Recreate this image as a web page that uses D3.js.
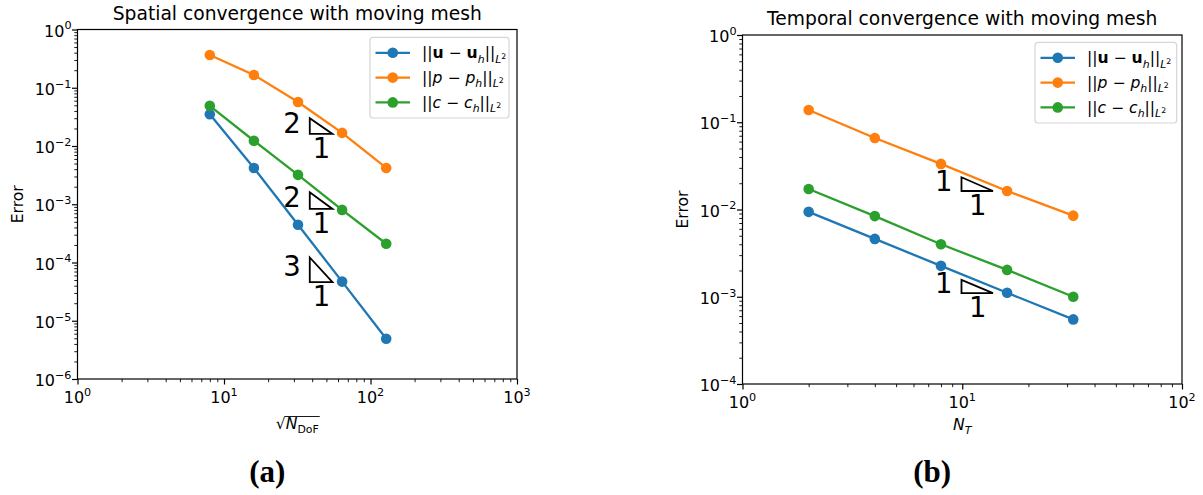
<!DOCTYPE html>
<html><head><meta charset="utf-8">
<script src="https://cdn.jsdelivr.net/npm/d3@7"></script>
<style>
body{margin:0;background:#fff}
svg{display:block}
text{font-family:"DejaVu Sans",sans-serif;fill:#000;white-space:pre}
text.tag{font-family:"Liberation Serif",serif}
</style>
</head><body>
<svg id="chart" width="1203" height="495"></svg>
<script>
// Spatial refinement: sqrt(N_DoF) and L2 errors
const spatialN = [8, 16, 32, 64, 128];
const spatialU = [0.035, 0.0042, 4.45e-4, 4.7e-5, 4.9e-6];
const spatialP = [0.365, 0.166, 0.057, 0.0168, 0.0042];
const spatialC = [0.049, 0.0123, 0.0032, 8.0e-4, 2.1e-4];

// Temporal refinement: number of time steps and L2 errors
const temporalN = [2, 4, 8, 16, 32];
const temporalU = [0.0094, 0.0046, 0.00226, 0.00111, 0.00055];
const temporalP = [0.138, 0.066, 0.0333, 0.0163, 0.0085];
const temporalC = [0.0172, 0.0084, 0.0040, 0.00203, 0.0010];

const seriesColors = ["#1f77b4", "#ff7f0e", "#2ca02c"];

// Slope triangles (data coordinates) with their rise / run labels
const spatialTriX = [38.5, 55];
const spatialTriY = [[0.0161, 0.030], [8.3e-4, 1.61e-3], [4.6e-5, 1.22e-4]];
const spatialTriRise = ["2", "2", "3"];
const temporalTriX = [9.92, 13.8];
const temporalTriY = [[0.0163, 0.0234], [1.10e-3, 1.56e-3]];
const temporalTriRise = ["1", "1"];

// Decade tick exponents
const spatialXExp = [0, 1, 2, 3];
const spatialYExp = [0, -1, -2, -3, -4, -5, -6];
const temporalXExp = [0, 1, 2];
const temporalYExp = [0, -1, -2, -3, -4];

// Legend entries as pieces of math text
const legendU = [{t:"||"},{t:"u",b:1},{t:" − "},{t:"u",b:1},{t:"h",i:1,sub:1},{t:"||"},{t:"L",i:1,sub:1},{t:"2",sup2:1}];
const legendP = [{t:"||"},{t:"p",i:1},{t:" − "},{t:"p",i:1},{t:"h",i:1,sub:1},{t:"||"},{t:"L",i:1,sub:1},{t:"2",sup2:1}];
const legendC = [{t:"||"},{t:"c",i:1},{t:" − "},{t:"c",i:1},{t:"h",i:1,sub:1},{t:"||"},{t:"L",i:1,sub:1},{t:"2",sup2:1}];

const svg = d3.select("#chart");
const FS = 15.6;

function mathText(textSel, parts, size) {
  let level = 0; // current vertical offset in px
  parts.forEach(p => {
    let target = 0, fs = size;
    if (p.sub) { target = size * 0.28; fs = size * 0.7; }
    if (p.sup2) { target = size * 0.02; fs = size * 0.5; }
    const ts = textSel.append("tspan").text(p.t)
      .attr("font-size", fs)
      .attr("dy", target - level);
    if (p.b) ts.attr("font-weight", "bold");
    if (p.i) ts.attr("font-style", "italic");
    level = target;
  });
}

function powLabel(textSel, e, size) {
  textSel.append("tspan").text("10").attr("font-size", size);
  textSel.append("tspan").text(String(e).replace("-", "−"))
    .attr("font-size", size * 0.7).attr("dy", -size * 0.45);
}

function minorValues(e0, e1) {
  const out = [];
  for (let e = e0; e < e1; e++) for (let k = 2; k <= 9; k++) out.push(k * Math.pow(10, e));
  return out;
}

function panel(cfg) {
  const g = svg.append("g");
  const x = d3.scaleLog().domain(cfg.xDomain).range([cfg.left, cfg.right]);
  const y = d3.scaleLog().domain(cfg.yDomain).range([cfg.bottom, cfg.top]);
  const xe = d3.extent(cfg.xExp), ye = d3.extent(cfg.yExp);

  // minor ticks
  g.append("g").attr("transform", `translate(0,${cfg.bottom})`)
    .call(d3.axisBottom(x).tickValues(minorValues(xe[0], xe[1])).tickSize(3.2).tickFormat(""))
    .call(a => a.select(".domain").remove())
    .call(a => a.selectAll("line").attr("stroke", "#000").attr("stroke-width", 0.9));
  g.append("g").attr("transform", `translate(${cfg.left},0)`)
    .call(d3.axisLeft(y).tickValues(minorValues(ye[0], ye[1])).tickSize(3.2).tickFormat(""))
    .call(a => a.select(".domain").remove())
    .call(a => a.selectAll("line").attr("stroke", "#000").attr("stroke-width", 0.9));

  // major ticks
  const xAx = g.append("g").attr("transform", `translate(0,${cfg.bottom})`)
    .call(d3.axisBottom(x).tickValues(cfg.xExp.map(e => Math.pow(10, e))).tickSize(5.5).tickFormat(""));
  xAx.select(".domain").remove();
  xAx.selectAll("line").attr("stroke", "#000").attr("stroke-width", 1.2);
  const yAx = g.append("g").attr("transform", `translate(${cfg.left},0)`)
    .call(d3.axisLeft(y).tickValues(cfg.yExp.map(e => Math.pow(10, e))).tickSize(5.5).tickFormat(""));
  yAx.select(".domain").remove();
  yAx.selectAll("line").attr("stroke", "#000").attr("stroke-width", 1.2);

  // tick labels
  cfg.xExp.forEach(e => {
    const t = g.append("text").attr("x", x(Math.pow(10, e))).attr("y", cfg.bottom + 24)
      .attr("text-anchor", "middle");
    powLabel(t, e, 16);
  });
  cfg.yExp.forEach(e => {
    const t = g.append("text").attr("x", cfg.left - 6).attr("y", y(Math.pow(10, e)) + 7)
      .attr("text-anchor", "end");
    powLabel(t, e, 16);
  });

  // frame
  g.append("rect").attr("x", cfg.left).attr("y", cfg.top)
    .attr("width", cfg.right - cfg.left).attr("height", cfg.bottom - cfg.top)
    .attr("fill", "none").attr("stroke", "#000").attr("stroke-width", 1.2);

  // series
  const line = d3.line().x(d => x(d[0])).y(d => y(d[1]));
  cfg.series.forEach((vals, i) => {
    const pts = cfg.xVals.map((v, j) => [v, vals[j]]);
    g.append("path").datum(pts).attr("d", line).attr("fill", "none")
      .attr("stroke", seriesColors[i]).attr("stroke-width", 2.3);
    g.selectAll(null).data(pts).enter().append("circle")
      .attr("cx", d => x(d[0])).attr("cy", d => y(d[1])).attr("r", 5.3)
      .attr("fill", seriesColors[i]);
  });

  // slope triangles
  cfg.triY.forEach((yy, i) => {
    const x0 = x(cfg.triX[0]), x1 = x(cfg.triX[1]);
    const yLo = y(yy[0]), yHi = y(yy[1]);
    g.append("path").attr("d", `M${x0},${yHi}L${x0},${yLo}L${x1},${yLo}Z`)
      .attr("fill", "none").attr("stroke", "#000").attr("stroke-width", 1.8)
      .attr("stroke-linejoin", "miter");
    g.append("text").attr("x", x0 - 9).attr("y", (yLo + yHi) / 2 + 6.5)
      .attr("text-anchor", "end").attr("font-size", 27.5).text(cfg.triRise[i]);
    g.append("text").attr("x", (x0 + x1) / 2 + 0.5).attr("y", yLo + 24)
      .attr("text-anchor", "middle").attr("font-size", 27.5).text("1");
  });

  // legend
  const lg = g.append("g");
  lg.append("rect").attr("x", cfg.legend.x).attr("y", cfg.legend.y)
    .attr("width", cfg.legend.w).attr("height", cfg.legend.h).attr("rx", 3)
    .attr("fill", "#fff").attr("fill-opacity", 0.8)
    .attr("stroke", "#d6d6d6").attr("stroke-width", 1.2);
  [legendU, legendP, legendC].forEach((parts, i) => {
    const yy = cfg.legend.y + 15.5 + i * 24.8;
    const lx = cfg.legend.x + 5.5;
    lg.append("line").attr("x1", lx).attr("x2", lx + 34.5).attr("y1", yy).attr("y2", yy)
      .attr("stroke", seriesColors[i]).attr("stroke-width", 2.3);
    lg.append("circle").attr("cx", lx + 17.25).attr("cy", yy).attr("r", 5.3).attr("fill", seriesColors[i]);
    const t = lg.append("text").attr("x", lx + 46.5).attr("y", yy + 5.5);
    mathText(t, parts, FS);
  });

  // title
  g.append("text").attr("x", (cfg.left + cfg.right) / 2).attr("y", cfg.top - 10)
    .attr("text-anchor", "middle").attr("font-size", 18.7).text(cfg.title);

  // y label
  g.append("text").attr("transform", `translate(${cfg.left - 55},${(cfg.top + cfg.bottom) / 2}) rotate(-90)`)
    .attr("text-anchor", "middle").attr("font-size", FS).text("Error");

  // x label
  cfg.xLabel(g, (cfg.left + cfg.right) / 2, cfg.bottom + 50);

  // panel tag
  g.append("text").attr("class", "tag").attr("x", (cfg.left + cfg.right) / 2 - 30).attr("y", 482)
    .attr("text-anchor", "middle")
    .attr("font-weight", "bold").attr("font-size", 31).text(cfg.tag);
}

panel({
  left: 77.5, right: 517, top: 29.5, bottom: 379,
  xDomain: [1, 1000], yDomain: [1e-6, 1],
  xExp: spatialXExp, yExp: spatialYExp,
  xVals: spatialN, series: [spatialU, spatialP, spatialC],
  triX: spatialTriX, triY: spatialTriY, triRise: spatialTriRise,
  legend: {x: 370, y: 37.3, w: 139, h: 80.7},
  title: "Spatial convergence with moving mesh",
  tag: "(a)",
  xLabel: (g, cx, by) => {
    const t = g.append("text").attr("x", cx).attr("y", by).attr("text-anchor", "middle");
    t.append("tspan").text("√").attr("font-size", FS);
    t.append("tspan").text("N").attr("font-style", "italic").attr("font-size", FS);
    t.append("tspan").text("DoF").attr("font-size", FS * 0.7).attr("dy", FS * 0.25);
    const bb = t.node().getBBox();
    const rw = t.node().getSubStringLength(0, 1);
    g.append("line").attr("x1", bb.x + rw - 0.5).attr("x2", bb.x + bb.width + 1)
      .attr("y1", bb.y + 1.5).attr("y2", bb.y + 1.5).attr("stroke", "#000").attr("stroke-width", 0.9);
  }
});

panel({
  left: 742.5, right: 1182, top: 35, bottom: 384,
  xDomain: [1, 100], yDomain: [1e-4, 1],
  xExp: temporalXExp, yExp: temporalYExp,
  xVals: temporalN, series: [temporalU, temporalP, temporalC],
  triX: temporalTriX, triY: temporalTriY, triRise: temporalTriRise,
  legend: {x: 1035, y: 42.3, w: 141.7, h: 80.7},
  title: "Temporal convergence with moving mesh",
  tag: "(b)",
  xLabel: (g, cx, by) => {
    const t = g.append("text").attr("x", cx).attr("y", by - 4).attr("text-anchor", "middle");
    t.append("tspan").text("N").attr("font-style", "italic").attr("font-size", FS);
    t.append("tspan").text("T").attr("font-style", "italic").attr("font-size", FS * 0.7).attr("dy", FS * 0.25);
  }
});
</script>
</body></html>
